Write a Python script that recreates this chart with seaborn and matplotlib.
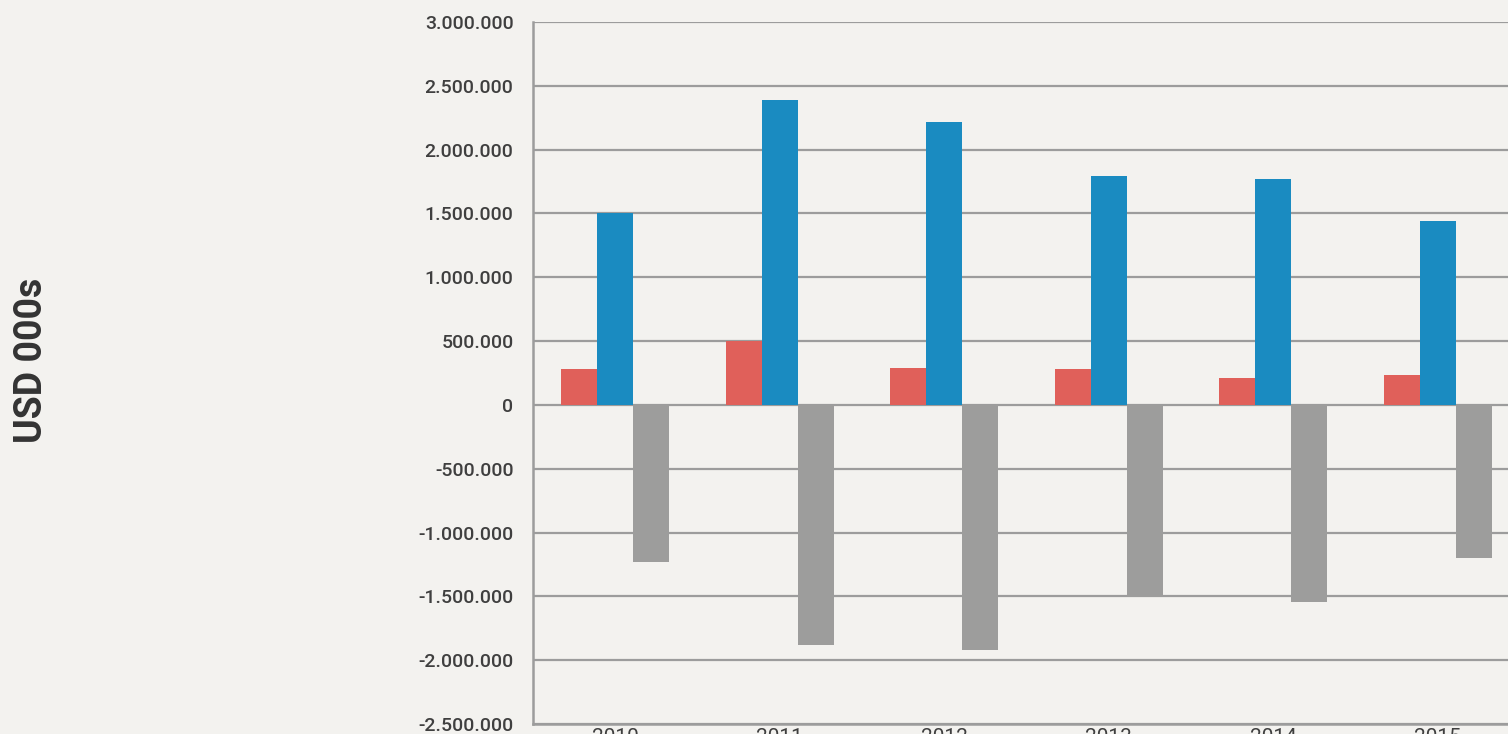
import numpy as np
import pandas as pd
from matplotlib import pyplot as plt
from matplotlib.ticker import FuncFormatter
import seaborn as sns

# dados (USD 000s)
years = ["2010", "2011", "2012", "2013", "2014", "2015"]
series = ["Serie A", "Serie B", "Serie C"]
serie_a = [280000, 500000, 290000, 280000, 210000, 235000]
serie_b = [1500000, 2390000, 2218000, 1795000, 1770000, 1440000]
serie_c = [-1230000, -1880000, -1920000, -1505000, -1544000, -1200000]
cores = ["#e0605a", "#1a8bc1", "#9d9d9c"]

df = pd.DataFrame({
    "year": years * 3,
    "serie": [series[0]] * 6 + [series[1]] * 6 + [series[2]] * 6,
    "value": serie_a + serie_b + serie_c,
})

sns.set_style("white")
plt.rcParams["font.family"] = ["Roboto", "DejaVu Sans"]
bg = "#f3f2ef"

fig = plt.figure(figsize=(15.08, 7.34), dpi=100, facecolor=bg)
# o eixo passa da borda direita, como no original
ax = fig.add_axes([533 / 1508, 1 - 724 / 734, (1520 - 533) / 1508, (724 - 22) / 734])
ax.set_facecolor(bg)

sns.barplot(data=df, x="year", y="value", hue="serie", hue_order=series,
            palette=cores, width=0.655, gap=0, saturation=1, ax=ax,
            legend=False, edgecolor="none", linewidth=0, errorbar=None)

ax.set_ylim(-2500000, 3000000)
ax.set_xlim(-0.5, 5.5)
ax.set_yticks(np.arange(-2500000, 3000001, 500000))
ax.yaxis.set_major_formatter(FuncFormatter(lambda v, p: f"{int(v):,}".replace(",", ".")))
ax.set_axisbelow(True)
ax.yaxis.grid(True, color="#9c9c9c", linewidth=1.6)
ax.xaxis.grid(False)

for s in ["top", "right"]:
    ax.spines[s].set_visible(False)
for s in ["left", "bottom"]:
    ax.spines[s].set_color("#9c9c9c")
    ax.spines[s].set_linewidth(1.8)

ax.tick_params(axis="y", length=0, pad=14, labelsize=14, labelcolor="#3f3f3f")
ax.tick_params(axis="x", which="major", length=0, pad=3, labelsize=15, labelcolor="#3f3f3f")
for lbl in ax.get_yticklabels():
    lbl.set_fontweight("medium")
ax.set_xticks(np.arange(-0.5, 6.0, 1.0), minor=True)
ax.tick_params(axis="x", which="minor", length=20, width=1.5, color="#9c9c9c", direction="out")
ax.set_xlabel("")
ax.set_ylabel("")

fig.text(31 / 1508, 374 / 734, "USD 000s", rotation=90, ha="center", va="center",
         fontsize=27, fontweight="bold", color="#333333")

plt.savefig("out.png", dpi=100, facecolor=bg)
